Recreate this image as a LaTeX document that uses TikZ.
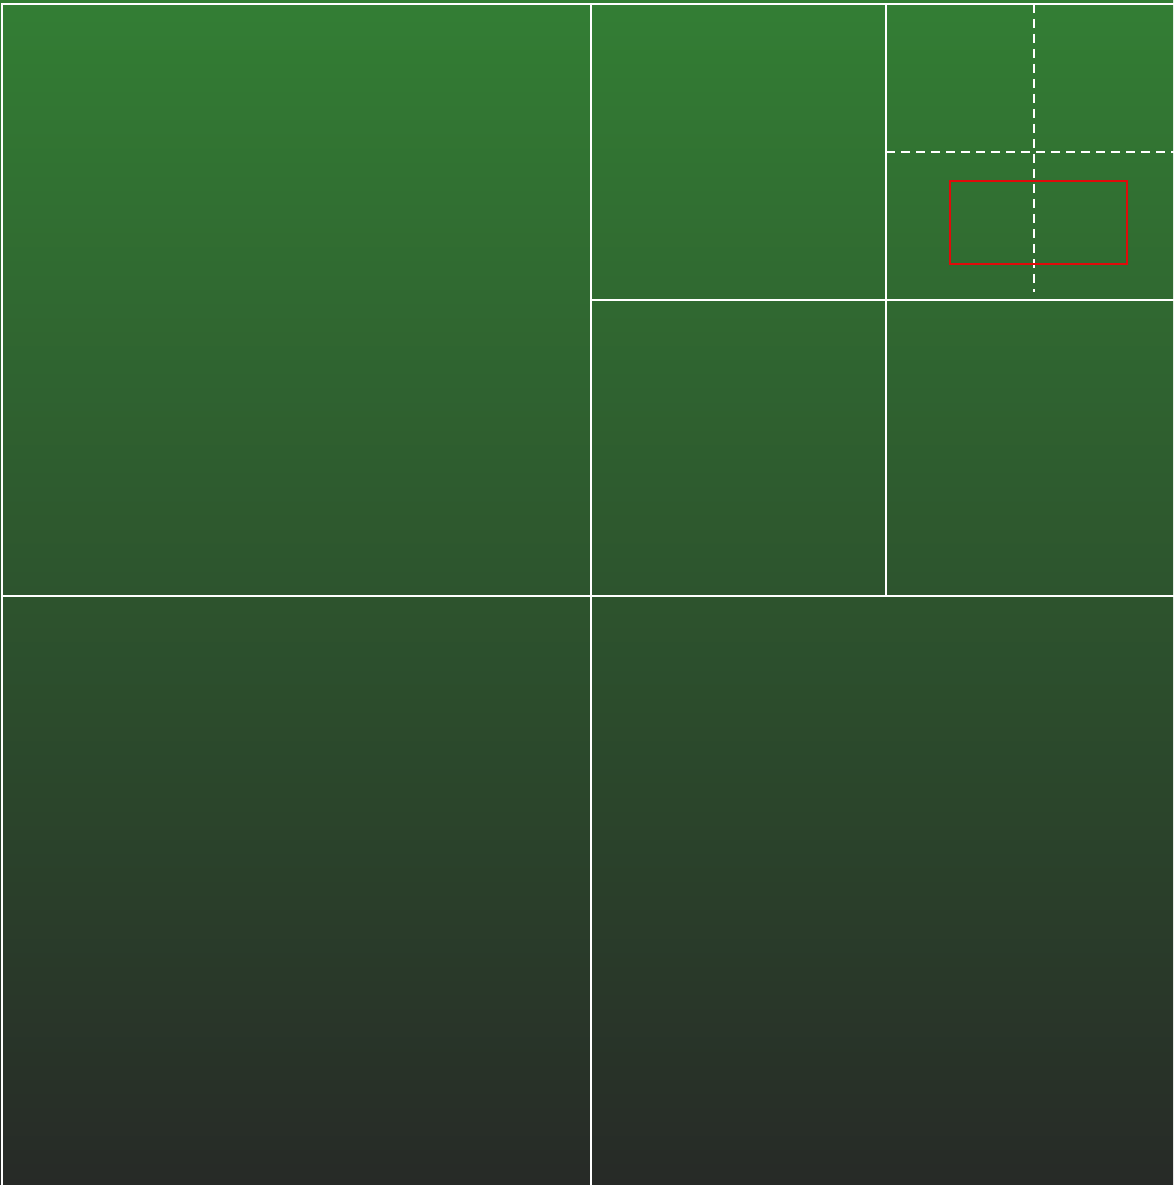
\documentclass[tikz,border=0pt]{standalone}
\usepackage{xcolor}
\definecolor{fieldtop}{RGB}{51,126,52}
\definecolor{fieldbottom}{RGB}{39,42,39}
\definecolor{queryred}{RGB}{225,10,10}
\tikzset{
  cellline/.style={draw=white, line width=2pt},
  splitline/.style={draw=white, line width=2pt, dash pattern=on 9pt off 6pt},
  queryrect/.style={draw=queryred, line width=2.2pt},
}
\begin{document}
\begin{tikzpicture}[x=1pt, y=-1pt]

% Background field
\useasboundingbox (0,0) rectangle (1173,1185);
\shade[top color=fieldtop, bottom color=fieldbottom] (0,0) rectangle (1173,1185);

% Quadtree cells
\draw[cellline] (1181,4) -- (2,4) -- (2,1190);
\draw[cellline] (591,4) -- (591,1190);
\draw[cellline] (2,596) -- (1181,596);
\draw[cellline] (886,4) -- (886,596);
\draw[cellline] (591,300) -- (1181,300);

% Pending split of the top-right cell
\draw[splitline] (1034,4) -- (1034,292);
\draw[splitline] (886,152) -- (1181,152);

% Query range
\draw[queryrect] (950,181) rectangle (1127,264);

\end{tikzpicture}
\end{document}
